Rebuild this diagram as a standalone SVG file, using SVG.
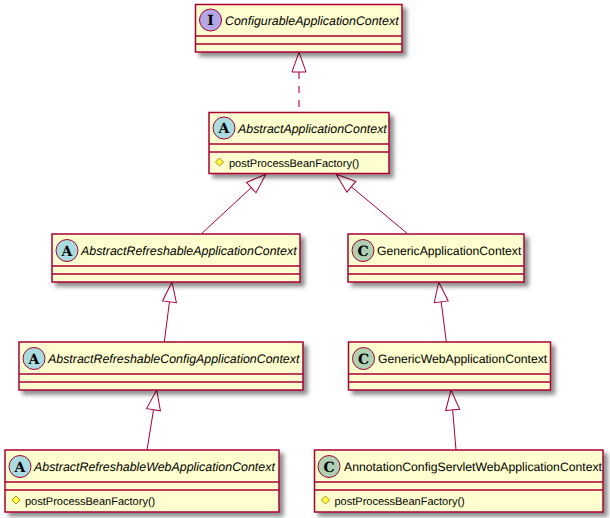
<svg xmlns="http://www.w3.org/2000/svg" width="610" height="518" viewBox="0 0 610 518">
<defs>
<filter id="sh" x="-10%" y="-20%" width="120%" height="140%"><feDropShadow dx="4" dy="4" stdDeviation="2" flood-color="#000" flood-opacity="0.45"/></filter>
<marker id="tri" markerUnits="userSpaceOnUse" markerWidth="24" markerHeight="18" refX="21" refY="8" orient="auto"><path d="M21 8L1 1V15Z" fill="#fff" stroke="#A80036"/></marker>
</defs>
<style>
text{text-rendering:geometricPrecision}
.box{fill:#FEFECE;stroke:#A80036;stroke-width:1.5;filter:url(#sh)}
.sep{stroke:#A80036;stroke-width:1.5;fill:none}
.spot{stroke:#A80036;stroke-width:1}
.i{fill:#B4A7E5}.a{fill:#A9DCDF}.c{fill:#ADD1B2}
.g{font:bold 14px "DejaVu Serif",serif;fill:#000;text-anchor:middle}
.n{font:12.400px "Liberation Sans",Arial,sans-serif;fill:#000}
.u{font-size:12.200px}
.it{font-style:italic}
.m{font:11px "Liberation Sans",Arial,sans-serif;fill:#000}
.d{fill:#FFFF44;stroke:#B38D22;stroke-width:1}
.l{stroke:#A80036;stroke-width:1;fill:none}
.ds{stroke-width:2;stroke-opacity:.55;stroke-dasharray:7,7}
.ln{marker-end:url(#tri)}
</style>
<g id="connectors">
<path class="l ln ds" d="M299 107L299 52"/>
<path class="l ln" d="M201.700 233.500L266 174"/>
<path class="l ln" d="M407.300 233.500L336 174"/>
<path class="l ln" d="M164.300 342L172 282"/>
<path class="l ln" d="M147 450L156.700 390"/>
<path class="l ln" d="M446.300 342L438.700 282"/>
<path class="l ln" d="M456 450L451 390"/>
</g>
<g id="ConfigurableApplicationContext">
<rect class="box" x="195.500" y="4.500" width="206.500" height="47.500"/>
<path class="sep" d="M195.500 36H402M195.500 44H402"/>
<circle class="spot i" cx="210.500" cy="20" r="11"/><text class="g" x="210.500" y="25">I</text>
<text class="n it" x="225" y="25">ConfigurableApplicationContext</text>
</g>
<g id="AbstractApplicationContext">
<rect class="box" x="209" y="112.500" width="180" height="61"/>
<path class="sep" d="M209 144H389M209 152H389"/>
<circle class="spot a" cx="224" cy="128" r="11"/><text class="g" x="224" y="133">A</text>
<text class="n it" x="238" y="133">AbstractApplicationContext</text>
<path class="d" d="M219.500 158L223.500 162L219.500 166L215.500 162Z"/>
<text class="m" x="229" y="167">postProcessBeanFactory()</text>
</g>
<g id="AbstractRefreshableApplicationContext">
<rect class="box" x="52" y="234" width="248" height="48"/>
<path class="sep" d="M52 266H300M52 274H300"/>
<circle class="spot a" cx="67" cy="250.500" r="11"/><text class="g" x="67" y="255.500">A</text>
<text class="n it" x="81" y="255">AbstractRefreshableApplicationContext</text>
</g>
<g id="GenericApplicationContext">
<rect class="box" x="348" y="234" width="176" height="48"/>
<path class="sep" d="M348 266H524M348 274H524"/>
<circle class="spot c" cx="363" cy="250.500" r="11"/><text class="g" x="363" y="255.500">C</text>
<text class="n u" x="377" y="255">GenericApplicationContext</text>
</g>
<g id="AbstractRefreshableConfigApplicationContext">
<rect class="box" x="19" y="342" width="284" height="48"/>
<path class="sep" d="M19 374H303M19 382H303"/>
<circle class="spot a" cx="34" cy="358.500" r="11"/><text class="g" x="34" y="363.500">A</text>
<text class="n it" x="48" y="363">AbstractRefreshableConfigApplicationContext</text>
</g>
<g id="GenericWebApplicationContext">
<rect class="box" x="348.500" y="342" width="202" height="48"/>
<path class="sep" d="M348.500 374H550.500M348.500 382H550.500"/>
<circle class="spot c" cx="363.500" cy="358.500" r="11"/><text class="g" x="363.500" y="363.500">C</text>
<text class="n u" x="378" y="363">GenericWebApplicationContext</text>
</g>
<g id="AbstractRefreshableWebApplicationContext">
<rect class="box" x="5" y="450" width="274" height="62"/>
<path class="sep" d="M5 482H279M5 490H279"/>
<circle class="spot a" cx="20" cy="466.500" r="11"/><text class="g" x="20" y="471.500">A</text>
<text class="n it" x="34" y="471">AbstractRefreshableWebApplicationContext</text>
<path class="d" d="M16 496L20 500L16 504L12 500Z"/>
<text class="m" x="25" y="505">postProcessBeanFactory()</text>
</g>
<g id="AnnotationConfigServletWebApplicationContext">
<rect class="box" x="314.500" y="450" width="288.500" height="62"/>
<path class="sep" d="M314.500 482H603M314.500 490H603"/>
<circle class="spot c" cx="329" cy="466.500" r="11"/><text class="g" x="329" y="471.500">C</text>
<text class="n u" x="344" y="471">AnnotationConfigServletWebApplicationContext</text>
<path class="d" d="M325.500 496L329.500 500L325.500 504L321.500 500Z"/>
<text class="m" x="334.500" y="505">postProcessBeanFactory()</text>
</g>
</svg>
